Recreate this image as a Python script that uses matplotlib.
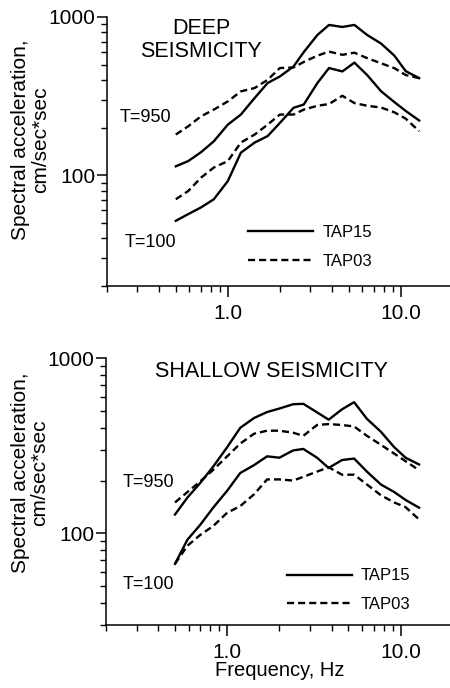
import numpy as np
import matplotlib
matplotlib.use("Agg")
import matplotlib.pyplot as plt
from matplotlib.ticker import LogLocator, FuncFormatter, NullFormatter

plt.rcParams['font.family'] = ['Liberation Sans', 'DejaVu Sans']

# frequency grid (Hz)
freq = [0.5, 0.59, 0.7, 0.83, 1.0, 1.19, 1.43, 1.7, 2.0, 2.4,
        2.75, 3.3, 3.85, 4.6, 5.4, 6.4, 7.7, 9.2, 10.7, 12.8]

# deep seismicity (cm/sec*sec)
deep_tap15_950 = [114, 123, 140, 164, 209, 242, 308, 383, 421, 487,
                  600, 770, 891, 865, 891, 770, 680, 570, 455, 411]
deep_tap03_950 = [181, 204, 236, 260, 293, 339, 356, 401, 476, 480,
                  520, 570, 605, 577, 595, 550, 510, 475, 430, 411]
deep_tap15_100 = [51.6, 56.9, 62.7, 70.6, 92, 139, 161, 177, 214, 267,
                  280, 383, 476, 453, 515, 430, 340, 290, 255, 222]
deep_tap03_100 = [70.6, 79.6, 96.7, 112, 123, 161, 181, 209, 242, 242,
                  260, 275, 282, 318, 286, 275, 268, 250, 228, 190]

# shallow seismicity
shal_tap15_950 = [128, 160, 194, 240, 310, 400, 455, 492, 515, 545,
                  548, 490, 445, 510, 560, 450, 380, 310, 270, 247]
shal_tap03_950 = [150, 172, 198, 230, 275, 325, 370, 385, 385, 375,
                  360, 415, 420, 415, 407, 360, 320, 285, 258, 229]
shal_tap15_100 = [67, 92, 112, 140, 175, 221, 245, 275, 270, 297,
                  303, 270, 236, 262, 267, 225, 190, 172, 155, 140]
shal_tap03_100 = [67, 85, 98, 110, 131, 143, 167, 203, 203, 200,
                  210, 225, 238, 216, 216, 190, 165, 150, 141, 120]

fig = plt.figure(figsize=(4.5, 6.88), dpi=100)
ax1 = fig.add_axes([0.2378, 0.5843, 0.7622, 0.391])
ax2 = fig.add_axes([0.2356, 0.0916, 0.7644, 0.388])

lw = 1.7
dash = (3, 1.7)


def style(ax, ymin):
    ax.set_xscale('log')
    ax.set_yscale('log')
    ax.set_xlim(0.2, 19.3)
    ax.set_ylim(ymin, 1000)
    for s in ['top', 'right']:
        ax.spines[s].set_visible(False)
    for s in ['left', 'bottom']:
        ax.spines[s].set_linewidth(1.1)
    ax.xaxis.set_major_locator(LogLocator(base=10, numticks=10))
    ax.xaxis.set_minor_locator(LogLocator(base=10, subs=np.arange(2, 10), numticks=10))
    ax.yaxis.set_major_locator(LogLocator(base=10, numticks=10))
    ax.yaxis.set_minor_locator(LogLocator(base=10, subs=np.arange(2, 10), numticks=10))
    ax.xaxis.set_major_formatter(FuncFormatter(lambda v, p: '%.1f' % v))
    ax.yaxis.set_major_formatter(FuncFormatter(lambda v, p: '%d' % v))
    ax.xaxis.set_minor_formatter(NullFormatter())
    ax.yaxis.set_minor_formatter(NullFormatter())
    ax.tick_params(axis='x', which='major', direction='out', length=8, width=1.1,
                   pad=5, labelsize=15)
    ax.tick_params(axis='x', which='minor', direction='out', length=4.5, width=1.0)
    ax.tick_params(axis='y', which='major', direction='out', length=7, width=1.1,
                   pad=1.5, labelsize=15)
    ax.tick_params(axis='y', which='minor', direction='out', length=4, width=1.0)
    ax.set_ylabel('Spectral acceleration,\ncm/sec*sec', fontsize=15,
                  linespacing=1.05)
    ax.yaxis.label.set(ha='center', va='center', rotation_mode='default')


def panel(ax, t15_950, t03_950, t15_100, t03_100):
    h1, = ax.plot(freq, t15_950, color='black', lw=lw)
    h2, = ax.plot(freq, t03_950, color='black', lw=lw, ls='--', dashes=dash)
    ax.plot(freq, t15_100, color='black', lw=lw)
    ax.plot(freq, t03_100, color='black', lw=lw, ls='--', dashes=dash)
    return h1, h2


# top panel
style(ax1, 20)
h1, h2 = panel(ax1, deep_tap15_950, deep_tap03_950, deep_tap15_100, deep_tap03_100)
ax1.yaxis.set_label_coords(-0.223, 0.545)
ax1.text(0.274, 0.915, 'DEEP\nSEISMICITY', transform=ax1.transAxes,
         ha='center', va='center', fontsize=15.5, linespacing=1.1)
ax1.text(0.038, 0.626, 'T=950', transform=ax1.transAxes, ha='left',
         va='center', fontsize=13)
ax1.text(0.052, 0.162, 'T=100', transform=ax1.transAxes, ha='left',
         va='center', fontsize=13)
ax1.legend([h1, h2], ['TAP15', 'TAP03'], loc='upper left',
           bbox_to_anchor=(0.411, 0.228), frameon=False, fontsize=12,
           handlelength=3.9, handletextpad=0.55, labelspacing=0.85,
           borderpad=0, borderaxespad=0)

# bottom panel
style(ax2, 30)
h1, h2 = panel(ax2, shal_tap15_950, shal_tap03_950, shal_tap15_100, shal_tap03_100)
ax2.yaxis.set_label_coords(-0.221, 0.57)
ax2.set_xlabel('Frequency, Hz', fontsize=14.5)
ax2.xaxis.label.set(va='center')
ax2.xaxis.set_label_coords(0.506, -0.172)
ax2.text(0.48, 0.948, 'SHALLOW SEISMICITY', transform=ax2.transAxes,
         ha='center', va='center', fontsize=15.5)
ax2.text(0.049, 0.532, 'T=950', transform=ax2.transAxes, ha='left',
         va='center', fontsize=13)
ax2.text(0.049, 0.15, 'T=100', transform=ax2.transAxes, ha='left',
         va='center', fontsize=13)
ax2.legend([h1, h2], ['TAP15', 'TAP03'], loc='upper left',
           bbox_to_anchor=(0.526, 0.212), frameon=False, fontsize=12,
           handlelength=3.9, handletextpad=0.55, labelspacing=0.8,
           borderpad=0, borderaxespad=0)

fig.savefig('out.png', dpi=100)
